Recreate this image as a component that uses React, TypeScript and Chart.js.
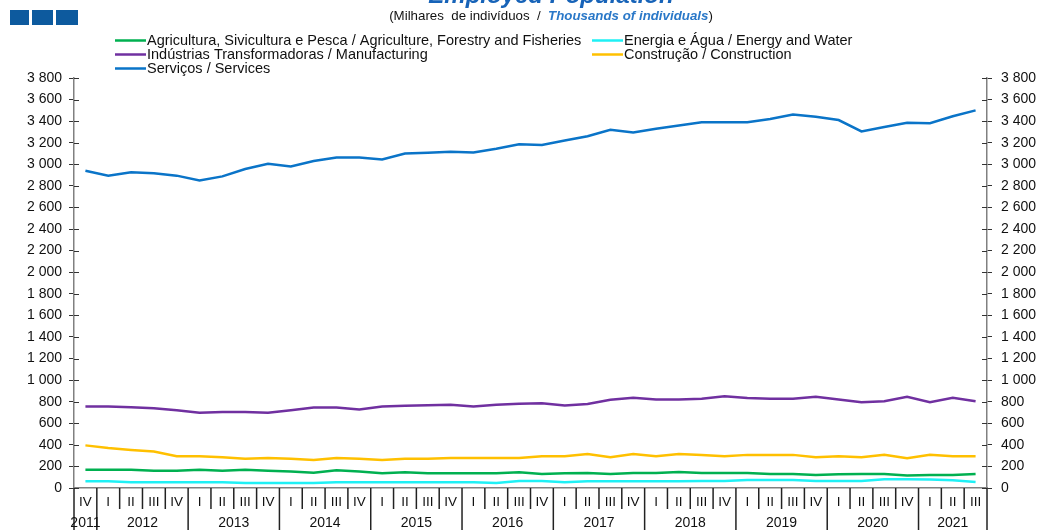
import React, { useEffect, useRef } from "react";
import { Chart, registerables } from "chart.js";

Chart.register(...registerables);

const FONT = "'Liberation Sans', Arial, sans-serif";

const quarterLabels = [
  "IV",
  "I", "II", "III", "IV",
  "I", "II", "III", "IV",
  "I", "II", "III", "IV",
  "I", "II", "III", "IV",
  "I", "II", "III", "IV",
  "I", "II", "III", "IV",
  "I", "II", "III", "IV",
  "I", "II", "III", "IV",
  "I", "II", "III", "IV",
  "I", "II", "III",
];

const yearLabels = [
  "2011",
  "2012", "2012", "2012", "2012",
  "2013", "2013", "2013", "2013",
  "2014", "2014", "2014", "2014",
  "2015", "2015", "2015", "2015",
  "2016", "2016", "2016", "2016",
  "2017", "2017", "2017", "2017",
  "2018", "2018", "2018", "2018",
  "2019", "2019", "2019", "2019",
  "2020", "2020", "2020", "2020",
  "2021", "2021", "2021",
];

const agriculture = [170, 170, 170, 161, 161, 170, 161, 170, 161, 152, 142, 164, 152, 136, 146, 136, 136, 136, 136, 146, 130, 136, 139, 130, 139, 139, 149, 139, 139, 139, 130, 130, 121, 127, 130, 130, 115, 121, 121, 130];
const energy = [62, 62, 53, 53, 53, 53, 53, 46, 46, 46, 46, 53, 53, 53, 53, 53, 53, 53, 46, 65, 65, 53, 62, 62, 62, 62, 62, 65, 65, 74, 74, 74, 65, 65, 65, 81, 81, 78, 71, 56];
const manufacturing = [755, 755, 748, 740, 720, 697, 705, 705, 697, 720, 745, 745, 727, 756, 763, 768, 771, 756, 771, 780, 786, 764, 778, 818, 836, 820, 820, 827, 850, 834, 827, 827, 845, 820, 795, 804, 845, 795, 836, 805];
const construction = [395, 370, 353, 338, 294, 294, 285, 270, 279, 270, 260, 279, 270, 260, 270, 270, 279, 279, 279, 279, 294, 294, 316, 285, 316, 294, 316, 307, 294, 307, 307, 307, 285, 294, 285, 307, 276, 307, 294, 294];
const services = [2940, 2895, 2927, 2918, 2895, 2850, 2888, 2956, 3005, 2980, 3030, 3064, 3064, 3045, 3100, 3108, 3117, 3110, 3145, 3185, 3180, 3220, 3260, 3320, 3295, 3330, 3360, 3390, 3390, 3390, 3420, 3462, 3440, 3410, 3305, 3345, 3385, 3380, 3445, 3500];

const seriesNames = [
  "Agricultura, Sivicultura e Pesca / Agriculture, Forestry and Fisheries",
  "Energia e Água / Energy and Water",
  "Indústrias Transformadoras / Manufacturing",
  "Construção / Construction",
  "Serviços / Services",
];
const seriesColors = ["#00b050", "#1ff0f5", "#7030a0", "#ffc000", "#0a74c8"];

const titleText = "Employed Population";
const subtitlePt = "(Milhares  de indivíduos  /  ";
const subtitleEn = "Thousands of individuals";

const yMin = 0;
const yMax = 3800;
const yStep = 200;

const fmt = (v: number) => String(v).replace(/\B(?=(\d{3})+(?!\d))/g, " ");

const decorPlugin = {
  id: "decor",
  afterDraw(chart: any) {
    const ctx = chart.ctx as CanvasRenderingContext2D;
    const area = chart.chartArea;
    const xs = chart.scales.x;
    const yl = chart.scales.y;
    ctx.save();

    // logo squares
    ctx.fillStyle = "#0d5a9e";
    ctx.fillRect(10, 10, 19, 15);
    ctx.fillRect(32, 10, 21, 15);
    ctx.fillRect(56, 10, 22, 15);

    // title (cut at the top)
    ctx.fillStyle = "#1763b8";
    ctx.font = `italic bold 24px ${FONT}`;
    ctx.textAlign = "center";
    ctx.textBaseline = "alphabetic";
    ctx.fillText(titleText, 551, 3);

    // subtitle
    const sf = 13.3;
    ctx.font = `${sf}px ${FONT}`;
    const w1 = ctx.measureText(subtitlePt).width;
    ctx.font = `italic bold ${sf}px ${FONT}`;
    const w2 = ctx.measureText(subtitleEn).width;
    ctx.font = `${sf}px ${FONT}`;
    const w3 = ctx.measureText(")").width;
    let sx = 551 - (w1 + w2 + w3) / 2;
    ctx.textAlign = "left";
    ctx.textBaseline = "middle";
    ctx.fillStyle = "#111";
    ctx.fillText(subtitlePt, sx, 16);
    sx += w1;
    ctx.font = `italic bold ${sf}px ${FONT}`;
    ctx.fillStyle = "#2a78c8";
    ctx.fillText(subtitleEn, sx, 16);
    sx += w2;
    ctx.font = `${sf}px ${FONT}`;
    ctx.fillStyle = "#111";
    ctx.fillText(")", sx, 16);

    // legend
    const colX = [115, 592];
    const rowY = [40.5, 54.5, 68.5];
    ctx.font = `14.5px ${FONT}`;
    chart.data.datasets.forEach((ds: any, i: number) => {
      const cx = colX[i % 2];
      const cy = rowY[Math.floor(i / 2)];
      ctx.strokeStyle = ds.borderColor;
      ctx.lineWidth = 2.5;
      ctx.beginPath();
      ctx.moveTo(cx, cy);
      ctx.lineTo(cx + 31, cy);
      ctx.stroke();
      ctx.fillStyle = "#111";
      ctx.fillText(ds.label, cx + 32, cy + 0.5);
    });

    // inner y ticks
    ctx.strokeStyle = "#333";
    ctx.lineWidth = 1;
    for (let v = yMin; v <= yMax; v += yStep) {
      const y = Math.round(yl.getPixelForValue(v)) + 0.5;
      ctx.beginPath();
      ctx.moveTo(area.left, y);
      ctx.lineTo(area.left + 5, y);
      ctx.moveTo(area.right - 5, y);
      ctx.lineTo(area.right, y);
      ctx.stroke();
    }

    // x axis separators and labels
    const n = quarterLabels.length;
    const cw = (xs.right - xs.left) / n;
    ctx.strokeStyle = "#222";
    ctx.lineWidth = 1.5;
    for (let b = 0; b <= n; b++) {
      const x = xs.left + b * cw;
      const isYear = b === 0 || b === n || yearLabels[b] !== yearLabels[b - 1];
      const y2 = isYear ? chart.height : area.bottom + 21;
      ctx.beginPath();
      ctx.moveTo(x, area.bottom);
      ctx.lineTo(x, y2);
      ctx.stroke();
    }
    ctx.fillStyle = "#111";
    ctx.font = `13.5px ${FONT}`;
    ctx.textAlign = "center";
    ctx.textBaseline = "middle";
    for (let i = 0; i < n; i++) {
      ctx.fillText(quarterLabels[i], xs.getPixelForValue(i), area.bottom + 14);
    }
    ctx.font = `14px ${FONT}`;
    let start = 0;
    for (let i = 1; i <= n; i++) {
      if (i === n || yearLabels[i] !== yearLabels[start]) {
        const cx = (xs.getPixelForValue(start) + xs.getPixelForValue(i - 1)) / 2;
        ctx.fillText(yearLabels[start], cx, area.bottom + 35);
        start = i;
      }
    }
    ctx.restore();
  },
};

export default function App() {
  const ref = useRef<HTMLCanvasElement>(null);

  useEffect(() => {
    document.body.style.margin = "0";
    const canvas = ref.current!;
    const seriesData = [agriculture, energy, manufacturing, construction, services];
    const chart = new Chart(canvas, {
      type: "line",
      data: {
        labels: quarterLabels.map((q, i) => `${q} ${yearLabels[i]}`),
        datasets: seriesData.map((d, i) => ({
          label: seriesNames[i],
          data: d,
          borderColor: seriesColors[i],
          backgroundColor: seriesColors[i],
          borderWidth: 2.5,
          pointRadius: 0,
          tension: 0,
          fill: false,
        })),
      },
      options: {
        responsive: false,
        animation: false,
        devicePixelRatio: 1,
        layout: { padding: { top: 78, left: 0, right: 0, bottom: 0 } },
        plugins: {
          legend: { display: false },
          title: { display: false },
          tooltip: { enabled: false },
        },
        scales: {
          x: {
            type: "category",
            offset: true,
            grid: { display: false, offset: true },
            border: { display: true, color: "#808080", width: 1.5 },
            ticks: { display: false },
            afterFit: (s: any) => {
              s.height = 42;
            },
          },
          y: {
            position: "left",
            min: yMin,
            max: yMax,
            grid: { drawOnChartArea: false, tickLength: 5, color: "#333" },
            border: { display: true, color: "#808080", width: 1.5 },
            ticks: {
              stepSize: yStep,
              autoSkip: false,
              padding: 7,
              color: "#111",
              font: { family: FONT, size: 14 },
              callback: (v: any) => fmt(Number(v)),
            },
            afterFit: (s: any) => {
              s.width = 74;
            },
          },
          y2: {
            position: "right",
            min: yMin,
            max: yMax,
            grid: { drawOnChartArea: false, tickLength: 5, color: "#333" },
            border: { display: true, color: "#808080", width: 1.5 },
            ticks: {
              stepSize: yStep,
              autoSkip: false,
              padding: 9,
              color: "#111",
              font: { family: FONT, size: 14 },
              callback: (v: any) => fmt(Number(v)),
            },
            afterFit: (s: any) => {
              s.width = 53;
            },
          },
        },
      },
      plugins: [decorPlugin],
    });
    return () => chart.destroy();
  }, []);

  return (
    <div style={{ position: "absolute", left: 0, top: 0, width: 1040, height: 530 }}>
      <canvas ref={ref} width={1040} height={530} style={{ width: 1040, height: 530 }} />
    </div>
  );
}
